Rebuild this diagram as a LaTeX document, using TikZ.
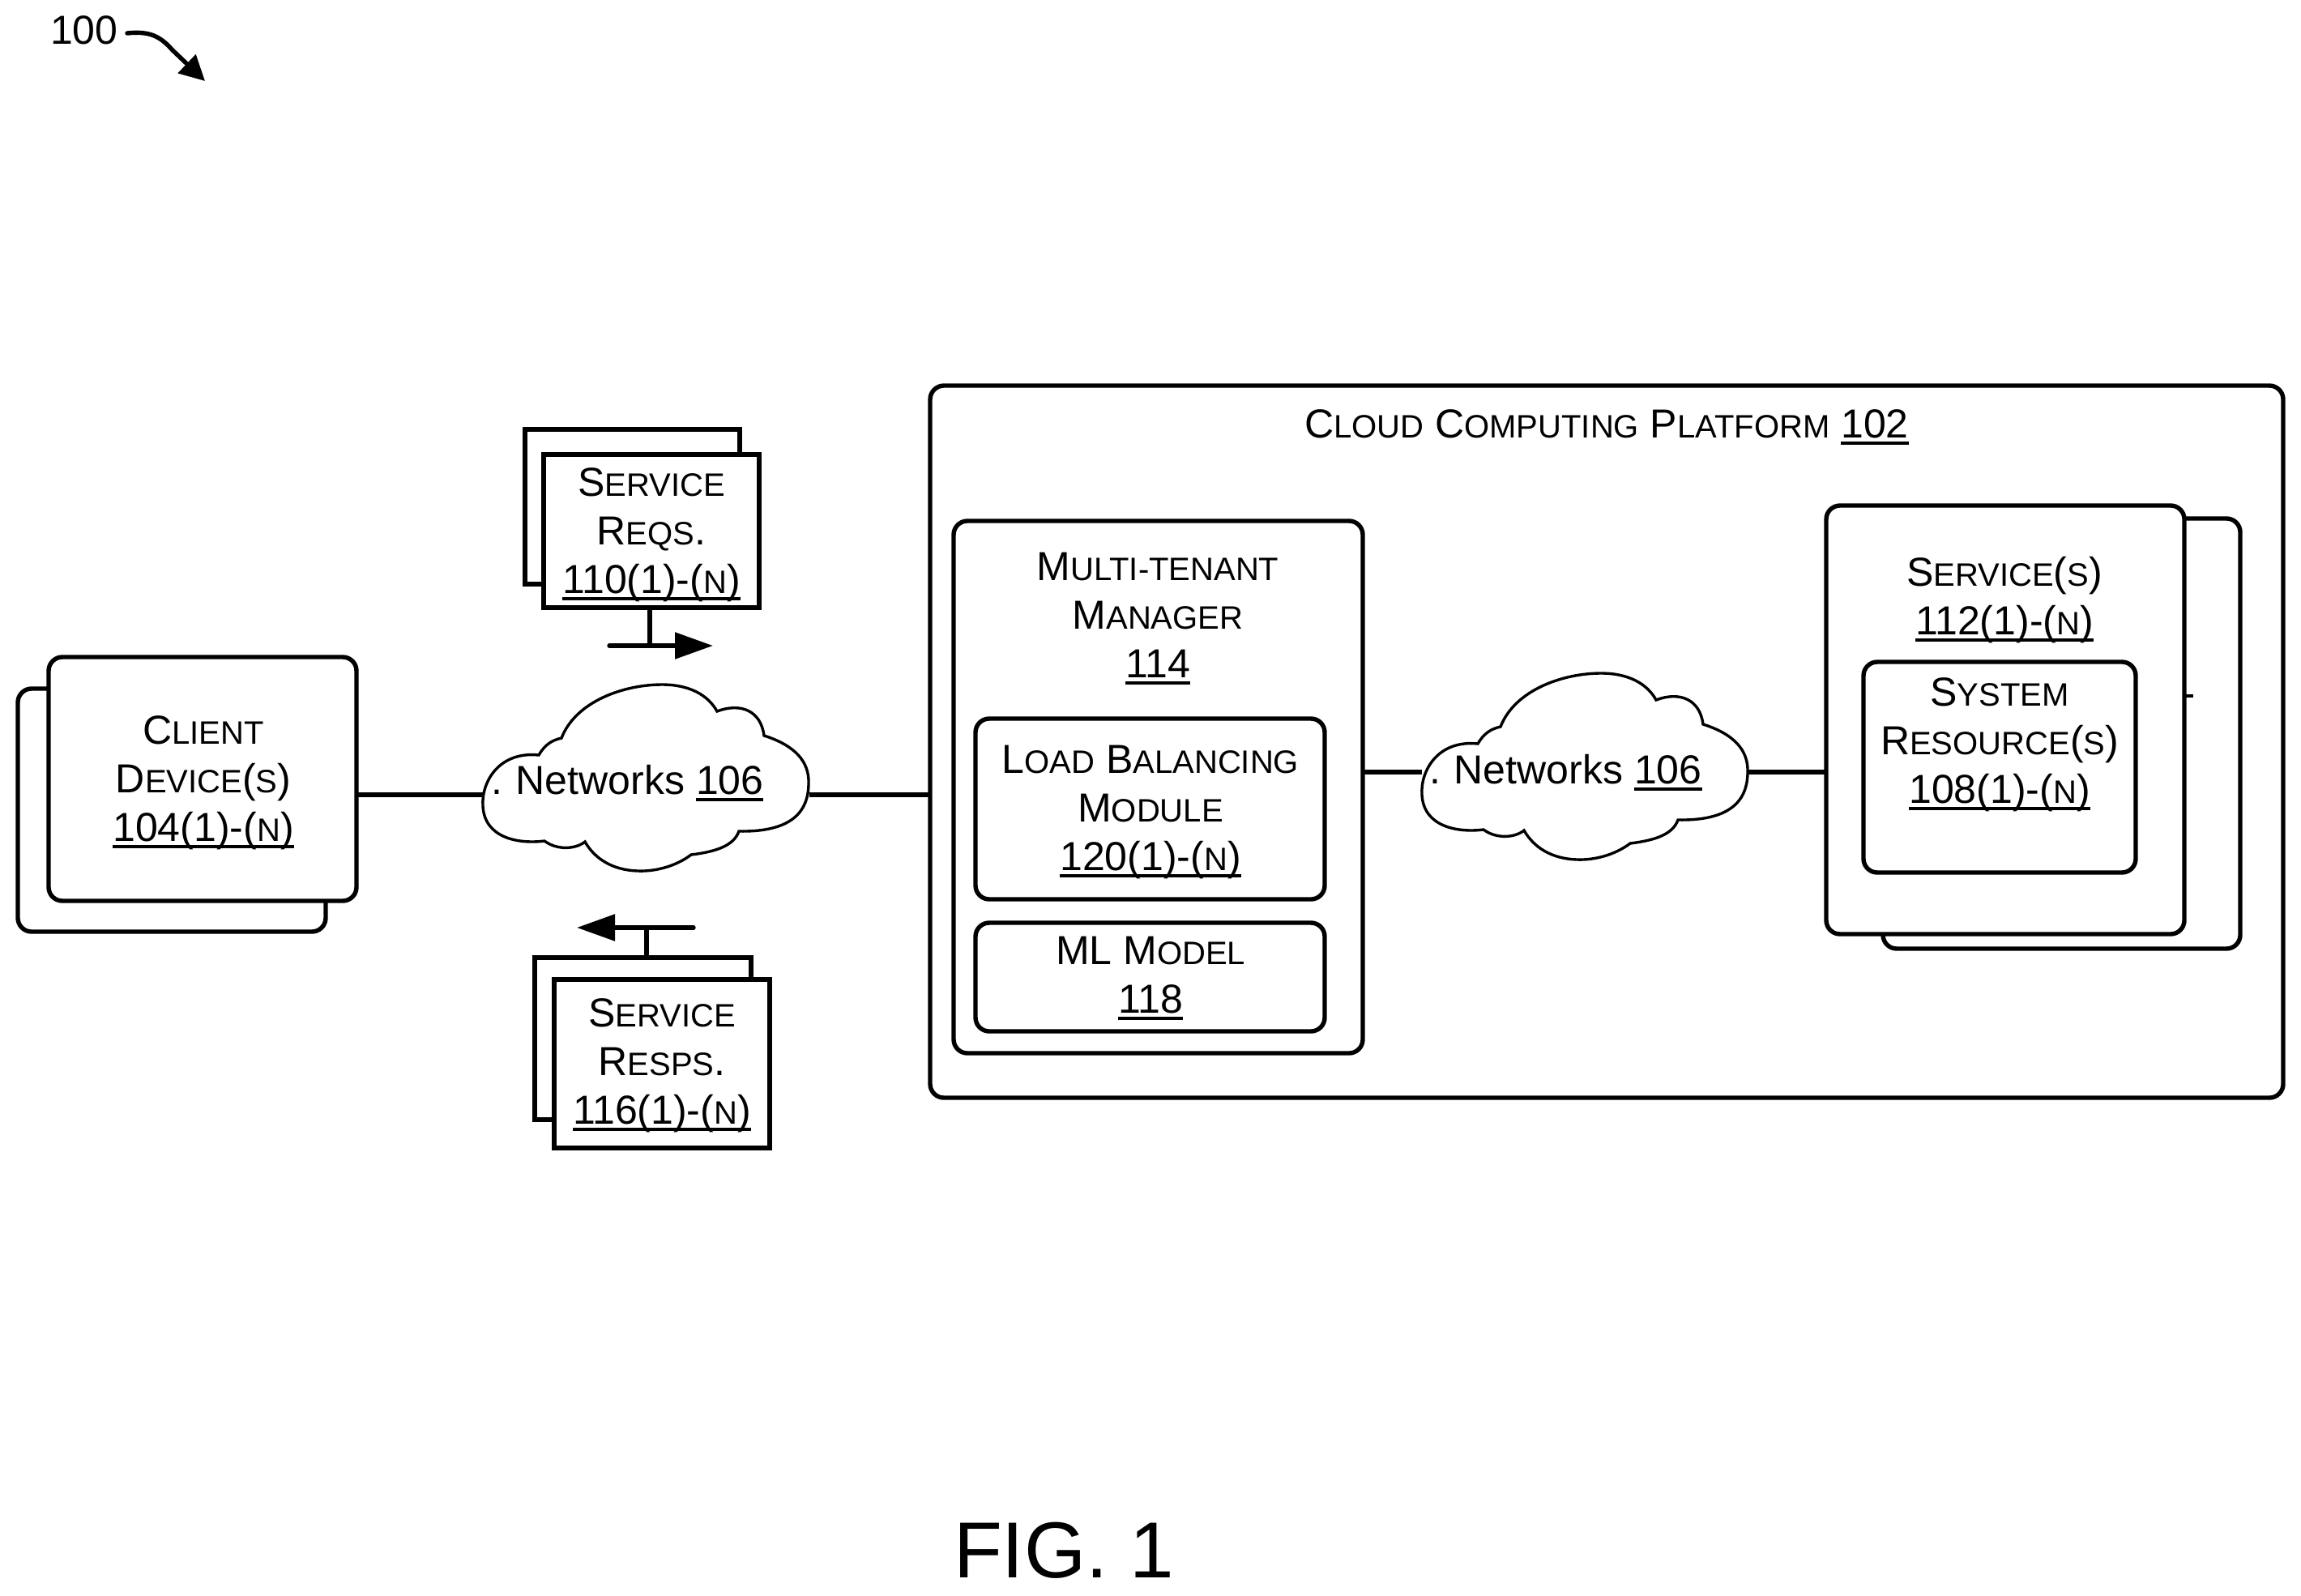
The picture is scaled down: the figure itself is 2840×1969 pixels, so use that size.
\documentclass[tikz,border=0pt]{standalone}
\usepackage{fontspec}
\setmainfont{Liberation Sans}
\usetikzlibrary{arrows.meta}
\newcommand\SC[1]{{\fontsize{20}{30}\selectfont #1}}
\newcommand\UL[1]{\setbox0\hbox{#1}\leavevmode\rlap{\rule[-4.5pt]{\wd0}{2.2pt}}\box0\relax}
\tikzset{
  sz/.style 2 args={minimum width=#1*0.5pt,minimum height=#2*0.5pt},
  plainbox/.style={draw=black,fill=white,line width=2.7pt,inner sep=0pt,outer sep=0pt,rectangle},
  roundbox/.style={plainbox,rounded corners=8.5pt},
  lbl/.style={align=center,anchor=base,inner sep=0pt,outer sep=0pt,font=\fontsize{25}{30}\selectfont},
  conn/.style={draw=black,line width=2.7pt},
  cloudline/.style={draw=black,fill=white,line width=1.7pt},
  headarrow/.style={conn,line cap=round,-{Triangle[length=23.5pt,width=16pt]}},
}
\newcommand\CloudPath{(0,150) .. controls (-2,120) and (20,82) .. (69,87)
  .. controls (76,75) and (84,69) .. (97,66)
  .. controls (115,20) and (175,0) .. (221,0)
  .. controls (255,0) and (278,13) .. (289,33)
  .. controls (318,22) and (343,32) .. (347,63)
  .. controls (385,75) and (403,95) .. (402,122)
  .. controls (402,165) and (370,182) .. (316,181)
  .. controls (310,198) and (290,206) .. (257,210)
  .. controls (240,223) and (215,231) .. (191,230)
  .. controls (160,229) and (138,215) .. (126,194)
  .. controls (115,203) and (92,205) .. (76,193)
  .. controls (45,197) and (2,190) .. (0,150) -- cycle}
\begin{document}
\begin{tikzpicture}[x=0.5pt,y=-0.5pt]
\useasboundingbox (0,0) rectangle (2840,1969);
\fill[white] (0,0) rectangle (2840,1969);

% reference numeral
\node[lbl,anchor=base west] (ref) at (62,55) {100};
\coordinate (refS) at (157,41);
\coordinate (refE) at (253,100);
\draw[conn,line cap=round,-{Triangle[length=15.5pt,width=15.5pt]}] (refS) .. controls (185,38) and (198,45) .. (213,62) -- (refE);

% connector endpoints
\coordinate (net1w) at (596,981);
\coordinate (net1e) at (999,981);
\coordinate (net2w) at (1755,953);
\coordinate (net2e) at (2157,953);
\coordinate (reqJ) at (802,797);
\coordinate (reqA) at (752,797);
\coordinate (reqB) at (880,797);
\coordinate (respJ) at (798,1145);
\coordinate (respA) at (856,1145);
\coordinate (respB) at (712,1145);
\coordinate (tickE) at (2707,859);

% client devices
\node[roundbox,sz={380}{300}] (clientback) at (212,1000) {};
\node[roundbox,sz={380}{301}] (client) at (250,961.5) {};
\node[lbl] (clientlbl) at (251,1038) {C\SC{LIENT}\\D\SC{EVICE}(\SC{S})\\\UL{104(1)-(\SC{N})}};

% service requests
\node[plainbox,sz={265}{191}] (reqback) at (780.5,625.5) {};
\node[plainbox,sz={266}{189}] (req) at (804,655.5) {};
\node[lbl] (reqlbl) at (804,732) {S\SC{ERVICE}\\R\SC{EQS}.\\\UL{110(1)-(\SC{N})}};
\draw[conn] (req.south -| reqJ) -- (reqJ);
\draw[headarrow] (reqA) -- (reqB);

% service responses
\node[plainbox,sz={267}{200}] (respback) at (793.5,1282) {};
\node[plainbox,sz={266}{208}] (resp) at (817,1313) {};
\node[lbl] (resplbl) at (817,1387) {S\SC{ERVICE}\\R\SC{ESPS}.\\\UL{116(1)-(\SC{N})}};
\draw[conn] (respback.north -| respJ) -- (respJ);
\draw[headarrow] (respA) -- (respB);

% platform
\node[roundbox,sz={1670}{879}] (platform) at (1983,915.5) {};
\node[lbl] (platformlbl) at (1983,540) {C\SC{LOUD} C\SC{OMPUTING} P\SC{LATFORM} \UL{102}};

% multi-tenant manager
\node[roundbox,sz={505}{657}] (mt) at (1429.5,971.5) {};
\node[lbl] (mtlbl) at (1429,836) {M\SC{ULTI-TENANT}\\M\SC{ANAGER}\\\UL{114}};
\node[roundbox,sz={431}{223}] (lb) at (1419.5,998.5) {};
\node[lbl] (lblbl) at (1420,1074) {L\SC{OAD} B\SC{ALANCING}\\M\SC{ODULE}\\\UL{120(1)-(\SC{N})}};
\node[roundbox,sz={431}{134}] (ml) at (1419.5,1206) {};
\node[lbl] (mllbl) at (1420,1250) {ML M\SC{ODEL}\\\UL{118}};

% services
\node[roundbox,sz={441}{531}] (svcback) at (2544.5,905.5) {};
\node[roundbox,sz={442}{529}] (svc) at (2475,888.5) {};
\node[lbl] (svclbl) at (2474,783) {S\SC{ERVICE}(\SC{S})\\\UL{112(1)-(\SC{N})}};
\node[roundbox,sz={336}{260}] (sys) at (2468,947) {};
\node[lbl] (syslbl) at (2468,991) {S\SC{YSTEM}\\R\SC{ESOURCE}(\SC{S})\\\UL{108(1)-(\SC{N})}};
\draw[conn,line width=2pt] (svc.east |- tickE) -- (tickE);

% clouds
\draw[conn] (client.east |- net1w) -- (net1w);
\draw[conn] (net1e) -- (net1e -| platform.west);
\draw[conn] (mt.east |- net2w) -- (net2w);
\draw[conn] (net2e) -- (net2e -| svc.west);
\begin{scope}[shift={(596,845)}]
  \draw[cloudline] \CloudPath;
\end{scope}
\node[lbl,anchor=base west] (net1) at (606,980) {.\hspace{1.5pt}\ Networks \UL{106}};
\begin{scope}[shift={(1755,831)}]
  \draw[cloudline] \CloudPath;
\end{scope}
\node[lbl,anchor=base west] (net2) at (1764,967) {.\hspace{1.5pt}\ Networks \UL{106}};

% figure caption
\node[lbl,anchor=base west,font=\fontsize{49}{55}\selectfont] (fig) at (1177,1947) {FIG. 1};
\end{tikzpicture}
\end{document}
